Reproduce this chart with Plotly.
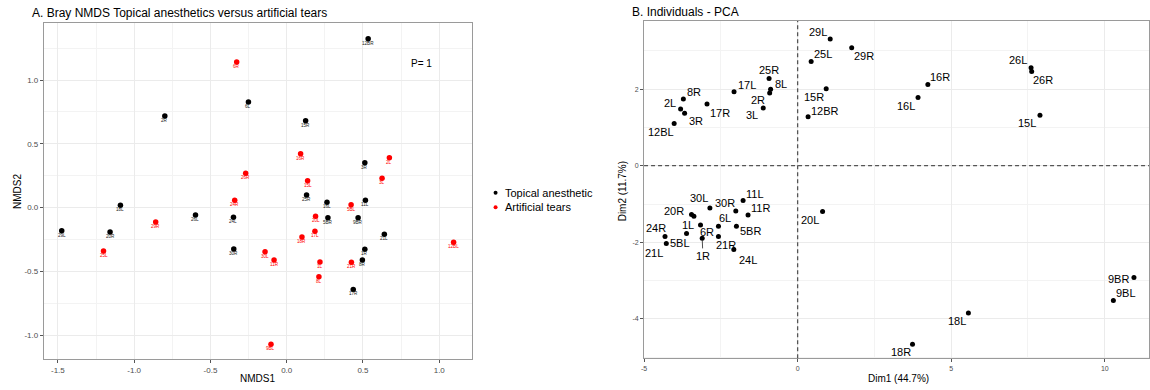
import plotly.graph_objects as go

# ---------------- data ----------------
# Panel A: Bray NMDS
nmds_ta_labels = ["12BR", "6L", "2R", "15R", "3R", "25R", "16L", "11L", "18L", "26L",
                  "24L", "5BR", "9BR", "21L", "29L", "20R", "30R", "1R", "8R", "17R"]
nmds_ta_x = [0.534, -0.251, -0.799, 0.124, 0.512, 0.130, 0.264, 0.516, -1.090, -0.598,
             -0.349, 0.270, 0.468, 0.640, -1.475, -1.158, -0.347, 0.512, 0.496, 0.436]
nmds_ta_y = [1.324, 0.827, 0.718, 0.681, 0.351, 0.098, 0.041, 0.056, 0.017, -0.059,
             -0.077, -0.080, -0.080, -0.210, -0.182, -0.192, -0.325, -0.328, -0.412, -0.642]

nmds_at_labels = ["6R", "16R", "2L", "26R", "15L", "3L", "24R", "5BL", "29R", "20L",
                  "17L", "18R", "12BL", "25L", "30L", "11R", "1L", "21R", "8L", "9BL"]
nmds_at_x = [-0.328, 0.091, 0.673, -0.269, 0.137, 0.625, -0.341, 0.422, -0.859, 0.189,
             0.185, 0.100, 1.094, -1.201, -0.142, -0.083, 0.218, 0.424, 0.211, -0.103]
nmds_at_y = [1.141, 0.422, 0.391, 0.268, 0.210, 0.229, 0.056, 0.022, -0.114, -0.069,
             -0.187, -0.231, -0.273, -0.341, -0.347, -0.412, -0.427, -0.430, -0.543, -1.073]

nmds_x_ticks = [-1.5, -1.0, -0.5, 0.0, 0.5, 1.0]
nmds_x_ticklabels = ["-1.5", "-1.0", "-0.5", "0.0", "0.5", "1.0"]
nmds_y_ticks = [-1.0, -0.5, 0.0, 0.5, 1.0]
nmds_y_ticklabels = ["-1.0", "-0.5", "0.0", "0.5", "1.0"]

# Panel B: PCA individuals
pca_labels = ["29L", "29R", "25L", "25R", "8L", "2R", "17L", "3L", "15R", "12BR",
              "8R", "2L", "3R", "17R", "12BL", "16R", "16L", "26L", "26R", "15L",
              "11L", "30L", "30R", "11R", "20R", "1L", "6L", "6R", "5BR", "24R",
              "5BL", "1R", "21R", "21L", "24L", "20L", "9BR", "9BL", "18L", "18R"]
pca_dim1 = [1.06, 1.76, 0.44, -0.93, -0.88, -0.91, -2.07, -1.12, 0.93, 0.34,
            -3.72, -3.81, -3.68, -2.95, -4.02, 4.24, 3.92, 7.60, 7.62, 7.89,
            -1.776, -2.857, -2.013, -1.614, -3.455, -3.377, -2.578, -3.162, -1.993, -4.318,
            -3.617, -3.107, -2.578, -4.276, -2.078, 0.812, 10.95, 10.28, 5.56, 3.74]
pca_dim2 = [3.31, 3.08, 2.72, 2.28, 2.00, 1.90, 1.93, 1.51, 2.01, 1.28,
            1.74, 1.48, 1.37, 1.61, 1.10, 2.12, 1.78, 2.56, 2.46, 1.32,
            -0.911, -1.102, -1.180, -1.285, -1.277, -1.319, -1.580, -1.546, -1.580, -1.851,
            -1.773, -1.893, -1.851, -2.034, -2.191, -1.198, -2.92, -3.52, -3.85, -4.66]

pca_x_ticks = [-5, 0, 5, 10]
pca_x_ticklabels = ["-5", "0", "5", "10"]
pca_y_ticks = [-4, -2, 0, 2]
pca_y_ticklabels = ["-4", "-2", "0", "2"]

# ---------------- styles ----------------
# label offsets (pixels, right / down) for the repelled PCA labels
pca_label_offsets = [(-12.6, -7.3), (12.3, 8.3), (12, -7.7), (0, -8.3), (10.7, -5),
                     (-11.3, 7), (12.7, -7.3), (-11, 7.3), (-12.3, 8.7), (17.3, -5.7),
                     (11, -7), (-11, -5.7), (11.7, 7.3), (12.7, 9), (-12.7, 8),
                     (12.3, -7.7), (-12.3, 8.3), (-12.7, -7.3), (11.7, 8.7), (-12.7, 8.3),
                     (12.3, -6.7), (-10.7, -9.7), (-11.3, -7.7), (12.7, -7.3), (-18, -3.7),
                     (-6, 8.7), (6.7, -8), (6.3, 7.3), (14.3, 4.7), (-9.3, -8.3),
                     (-6.3, 9), (0.7, 17.7), (7.3, 8.3), (-12.7, 9), (14, 10.3),
                     (-12.7, 8.7), (-15, 1), (12.3, -7.3), (-11.7, 8), (-12, 8)]
segment_labels = {"1R"}

W, H = 1150, 390
FONT = "Liberation Sans, Arial, sans-serif"
BLACK = "#000000"
RED = "#FF0000"
GRID = "#ebebeb"
MINOR = "#f3f3f3"
BORDER = "#9a9a9a"
TICKC = "#4d4d4d"


def px(x):
    return x / W


def py(y):
    return 1 - y / H


fig = go.Figure()

fig.add_trace(go.Scatter(x=nmds_ta_x, y=nmds_ta_y, mode="markers", name="Topical anesthetic",
                         marker=dict(color=BLACK, size=5.5), xaxis="x", yaxis="y",
                         showlegend=False, hoverinfo="text", text=nmds_ta_labels))
fig.add_trace(go.Scatter(x=nmds_at_x, y=nmds_at_y, mode="markers", name="Artificial tears",
                         marker=dict(color=RED, size=5.5), xaxis="x", yaxis="y",
                         showlegend=False, hoverinfo="text", text=nmds_at_labels))
fig.add_trace(go.Scatter(x=pca_dim1, y=pca_dim2, mode="markers", name="Individuals",
                         marker=dict(color=BLACK, size=5), xaxis="x2", yaxis="y2",
                         showlegend=False, hoverinfo="text", text=pca_labels))

annotations = []
# NMDS tiny labels under each point
for labels, xs, ys, col in [(nmds_ta_labels, nmds_ta_x, nmds_ta_y, "#222222"),
                            (nmds_at_labels, nmds_at_x, nmds_at_y, RED)]:
    for lab, xv, yv in zip(labels, xs, ys):
        annotations.append(dict(x=xv, y=yv, xref="x", yref="y", text=lab, showarrow=False,
                                yshift=-4.6, font=dict(family=FONT, size=4.6, color=col)))

# PCA labels
for lab, xv, yv, (dx, dy) in zip(pca_labels, pca_dim1, pca_dim2, pca_label_offsets):
    if lab in segment_labels:
        annotations.append(dict(x=xv, y=yv, xref="x2", yref="y2", text=lab, showarrow=True,
                                ax=dx, ay=dy, arrowhead=0, arrowwidth=0.8, arrowcolor="#222",
                                standoff=2, font=dict(family=FONT, size=11, color=BLACK)))
    else:
        annotations.append(dict(x=xv, y=yv, xref="x2", yref="y2", text=lab, showarrow=False,
                                xshift=dx, yshift=-dy, font=dict(family=FONT, size=11, color=BLACK)))

# titles / axis titles / other text
annotations += [
    dict(x=px(27.5), y=py(12.7), xref="paper", yref="paper", xanchor="left", yanchor="middle",
         text="A. Bray NMDS Topical anesthetics versus artificial tears", showarrow=False,
         font=dict(family=FONT, size=12, color=BLACK)),
    dict(x=px(629), y=py(12.3), xref="paper", yref="paper", xanchor="left", yanchor="middle",
         text="B. Individuals - PCA", showarrow=False, font=dict(family=FONT, size=12, color=BLACK)),
    dict(x=px(255), y=py(378.5), xref="paper", yref="paper", xanchor="center", yanchor="middle",
         text="NMDS1", showarrow=False, font=dict(family=FONT, size=10, color=BLACK)),
    dict(x=px(14), y=py(191), xref="paper", yref="paper", xanchor="center", yanchor="middle",
         text="NMDS2", textangle=-90, showarrow=False, font=dict(family=FONT, size=10, color=BLACK)),
    dict(x=px(899), y=py(378.7), xref="paper", yref="paper", xanchor="center", yanchor="middle",
         text="Dim1 (44.7%)", showarrow=False, font=dict(family=FONT, size=10, color=BLACK)),
    dict(x=px(621.5), y=py(191), xref="paper", yref="paper", xanchor="center", yanchor="middle",
         text="Dim2 (11.7%)", textangle=-90, showarrow=False, font=dict(family=FONT, size=10, color=BLACK)),
    dict(x=px(419.5), y=py(64), xref="paper", yref="paper", xanchor="center", yanchor="middle",
         text="P= 1", showarrow=False, font=dict(family=FONT, size=10, color=BLACK)),
    dict(x=px(501.5), y=py(192.6), xref="paper", yref="paper", xanchor="left", yanchor="middle",
         text="Topical anesthetic", showarrow=False, font=dict(family=FONT, size=11, color=BLACK)),
    dict(x=px(501.5), y=py(207.2), xref="paper", yref="paper", xanchor="left", yanchor="middle",
         text="Artificial tears", showarrow=False, font=dict(family=FONT, size=11, color=BLACK)),
]

r = 2.0
shapes = [
    dict(type="circle", xref="paper", yref="paper", x0=px(494.3 - r), x1=px(494.3 + r),
         y0=py(192.7 + r), y1=py(192.7 - r), fillcolor=BLACK, line=dict(width=0)),
    dict(type="circle", xref="paper", yref="paper", x0=px(494.3 - r), x1=px(494.3 + r),
         y0=py(207.3 + r), y1=py(207.3 - r), fillcolor=RED, line=dict(width=0)),
    # PCA reference lines at zero
    dict(type="line", xref="x2", yref="y2 domain", x0=0, x1=0, y0=0, y1=1,
         line=dict(color="#555555", width=1.3, dash="4px,3px"), layer="above"),
    dict(type="line", xref="x2 domain", yref="y2", x0=0, x1=1, y0=0, y1=0,
         line=dict(color="#555555", width=1.3, dash="4px,3px"), layer="above"),
]

axis_common = dict(showline=True, mirror=True, linecolor=BORDER, linewidth=1,
                   ticks="outside", ticklen=3, tickcolor="#555555", tickwidth=0.8,
                   showgrid=True, gridcolor=GRID, gridwidth=1, zeroline=False,
                   tickmode="array")

fig.update_layout(
    width=W, height=H,
    margin=dict(l=0, r=0, t=0, b=0),
    paper_bgcolor="white", plot_bgcolor="white",
    showlegend=False,
    xaxis=dict(domain=[px(41), px(471)], range=[-1.592, 1.217], anchor="y",
               tickvals=nmds_x_ticks, ticktext=nmds_x_ticklabels,
               tickfont=dict(family=FONT, size=8, color=TICKC),
               minor=dict(tickmode="linear", tick0=0, dtick=0.25, showgrid=True,
                          gridcolor=MINOR, gridwidth=0.8, ticks=""),
               **axis_common),
    yaxis=dict(domain=[py(359), py(23)], range=[-1.188, 1.447], anchor="x",
               tickvals=nmds_y_ticks, ticktext=nmds_y_ticklabels,
               tickfont=dict(family=FONT, size=8, color=TICKC),
               minor=dict(tickmode="linear", tick0=0, dtick=0.25, showgrid=True,
                          gridcolor=MINOR, gridwidth=0.8, ticks=""),
               **axis_common),
    xaxis2=dict(domain=[px(643.3), 1.0], range=[-5.0, 11.44], anchor="y2",
                tickvals=pca_x_ticks, ticktext=pca_x_ticklabels,
                tickfont=dict(family=FONT, size=7, color=TICKC),
                minor=dict(tickmode="linear", tick0=0, dtick=2.5, showgrid=True,
                           gridcolor=MINOR, gridwidth=0.8, ticks=""),
                **axis_common),
    yaxis2=dict(domain=[py(358.3), py(21)], range=[-5.03, 3.78], anchor="x2",
                tickvals=pca_y_ticks, ticktext=pca_y_ticklabels,
                tickfont=dict(family=FONT, size=7, color=TICKC),
                minor=dict(tickmode="linear", tick0=0, dtick=1, showgrid=True,
                           gridcolor=MINOR, gridwidth=0.8, ticks=""),
                **axis_common),
    annotations=annotations,
    shapes=shapes,
)

fig.write_html("out.html",
               config={"displayModeBar": False},
               post_script="document.body.style.margin='0px';document.body.style.overflow='hidden';")
